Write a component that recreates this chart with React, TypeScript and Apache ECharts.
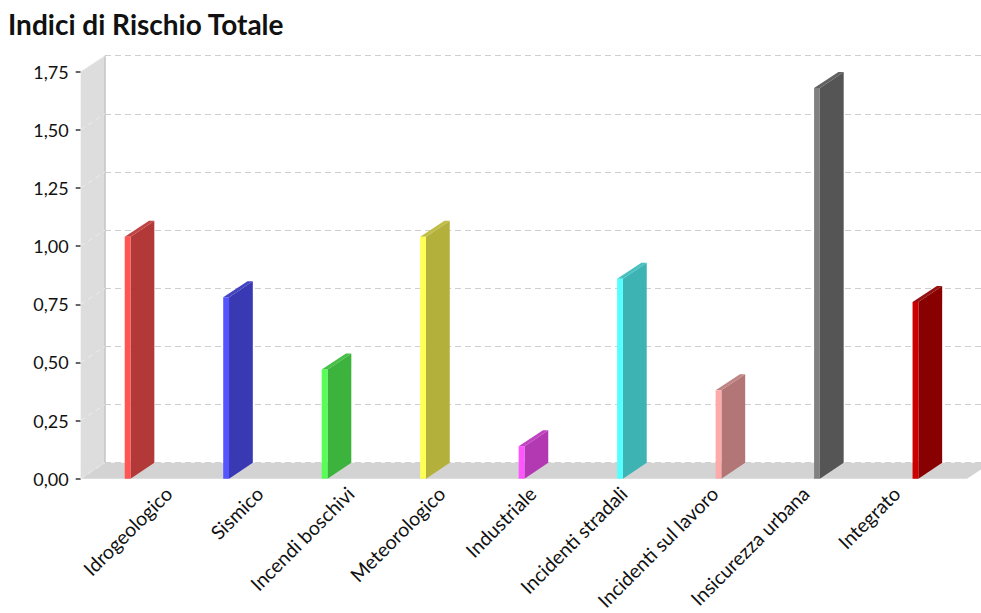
import React, { useEffect, useRef } from "react";
import * as echarts from "echarts";

const categories = [
  "Idrogeologico",
  "Sismico",
  "Incendi boschivi",
  "Meteorologico",
  "Industriale",
  "Incidenti stradali",
  "Incidenti sul lavoro",
  "Insicurezza urbana",
  "Integrato",
];
const values = [1.04, 0.78, 0.47, 1.04, 0.14, 0.86, 0.38, 1.68, 0.76];
const frontColors = ["#ff5555", "#5555ff", "#55ff55", "#ffff55", "#ff55ff", "#55ffff", "#ffaaaa", "#808080", "#cc0000"];
const sideColors = ["#b33939", "#3939b3", "#3cb33c", "#b3b03c", "#b339b3", "#3db3b3", "#b37676", "#555555", "#880000"];
const topColors = ["#c04444", "#4444c0", "#47bf47", "#c0bd47", "#c044c0", "#48c0c0", "#c08585", "#626262", "#961111"];
const yTicks = [0, 0.25, 0.5, 0.75, 1, 1.25, 1.5, 1.75];

const DX = 24.3;
const DY = 16;
const FONT = "Lato, 'Open Sans', sans-serif";

export default function App() {
  const ref = useRef<HTMLDivElement>(null);
  useEffect(() => {
    if (!ref.current) return;
    const chart = echarts.init(ref.current, null, { renderer: "svg" });
    const option: any = {
      animation: false,
      backgroundColor: "#ffffff",
      title: {
        text: "Indici di Rischio Totale",
        left: 3,
        top: 5,
        textStyle: { fontFamily: FONT, fontWeight: "bold", fontSize: 28, color: "#111" },
      },
      grid: [
        { left: 80.7, right: 14, top: 71.7, bottom: 134.3 },
        { left: 105, right: -30, top: 55.7, bottom: 150.3 },
        { left: 123, width: 819, top: 71.7, bottom: 134.3 },
      ],
      xAxis: [
        { gridIndex: 0, type: "category", data: categories, axisLine: { show: false }, axisTick: { show: false }, axisLabel: { show: false } },
        { gridIndex: 1, type: "value", show: false, min: 0, max: 1 },
        {
          gridIndex: 2,
          type: "category",
          data: categories,
          axisLine: { show: false },
          axisTick: { show: false },
          axisLabel: { interval: 0, rotate: 45, margin: 20, fontFamily: FONT, fontSize: 19.5, color: "#111" },
        },
      ],
      yAxis: [
        {
          gridIndex: 0,
          type: "value",
          min: 0,
          max: 1.75,
          interval: 0.25,
          axisLine: { show: false },
          axisTick: { show: true, length: 5, lineStyle: { color: "#333", width: 1.5 } },
          splitLine: { show: false },
          axisLabel: {
            margin: 12,
            fontFamily: FONT,
            fontSize: 18,
            color: "#111",
            formatter: (v: number) => v.toFixed(2).replace(".", ","),
          },
        },
        {
          gridIndex: 1,
          type: "value",
          min: 0,
          max: 1.75,
          interval: 0.25,
          axisLine: { show: false },
          axisTick: { show: false },
          axisLabel: { show: false },
          splitLine: { show: true, lineStyle: { color: "#cfcfcf", type: [6, 4], width: 1 } },
        },
        { gridIndex: 2, type: "value", show: false, min: 0, max: 1.75 },
      ],
      series: [
        {
          type: "custom",
          xAxisIndex: 0,
          yAxisIndex: 0,
          z: 1,
          silent: true,
          data: [[0]],
          renderItem: (params: any, api: any) => {
            const cs = params.coordSys;
            const x0 = cs.x;
            const x1 = cs.x + cs.width;
            const yb = cs.y + cs.height;
            const yt = cs.y;
            return {
              type: "group",
              children: [
                {
                  type: "polygon",
                  shape: { points: [[x0, yt], [x0 + DX, yt - DY], [x0 + DX, yb - DY], [x0, yb]] },
                  style: { fill: "#dddddd" },
                },
                {
                  type: "line",
                  shape: { x1: x0 + DX, y1: yt - DY, x2: x0 + DX, y2: yb - DY },
                  style: { stroke: "#c4c4c4", lineWidth: 1.5 },
                },
                {
                  type: "polygon",
                  shape: { points: [[x0, yb], [x0 + DX, yb - DY], [x1 + DX, yb - DY], [x1, yb]] },
                  style: { fill: "#d3d3d3" },
                },
              ],
            };
          },
        },
        {
          type: "custom",
          xAxisIndex: 0,
          yAxisIndex: 0,
          z: 2,
          silent: true,
          data: yTicks.map((t) => [0, t]),
          renderItem: (params: any, api: any) => {
            const cs = params.coordSys;
            const p = api.coord([0, api.value(1)]);
            const x0 = cs.x;
            return {
              type: "line",
              shape: { x1: x0, y1: p[1], x2: x0 + DX, y2: p[1] - DY },
              style: { stroke: "#ececec", lineWidth: 1, lineDash: [5, 4] },
            };
          },
        },
        {
          type: "custom",
          xAxisIndex: 0,
          yAxisIndex: 0,
          z: 3,
          data: values.map((v, i) => [i, v]),
          renderItem: (params: any, api: any) => {
            const i = api.value(0);
            const top = api.coord([i, api.value(1)]);
            const base = api.coord([i, 0]);
            const fl = top[0] - 5.2;
            const fr = fl + 5.8;
            const yt = top[1];
            const yb = base[1];
            return {
              type: "group",
              children: [
                {
                  type: "polygon",
                  shape: { points: [[fr, yt], [fr + DX - 0.5, yt - DY], [fr + DX - 0.5, yb - DY], [fr, yb]] },
                  style: { fill: sideColors[i] },
                },
                {
                  type: "polygon",
                  shape: { points: [[fl, yt], [fl + DX, yt - DY], [fr + DX - 0.5, yt - DY], [fr, yt]] },
                  style: { fill: topColors[i] },
                },
                {
                  type: "rect",
                  shape: { x: fl, y: yt, width: fr - fl, height: yb - yt },
                  style: { fill: frontColors[i] },
                },
              ],
            };
          },
        },
      ],
    };
    chart.setOption(option);
    return () => chart.dispose();
  }, []);
  return (
    <div
      ref={ref}
      style={{ position: "fixed", left: 0, top: 0, width: 981, height: 613, background: "#fff" }}
    />
  );
}
